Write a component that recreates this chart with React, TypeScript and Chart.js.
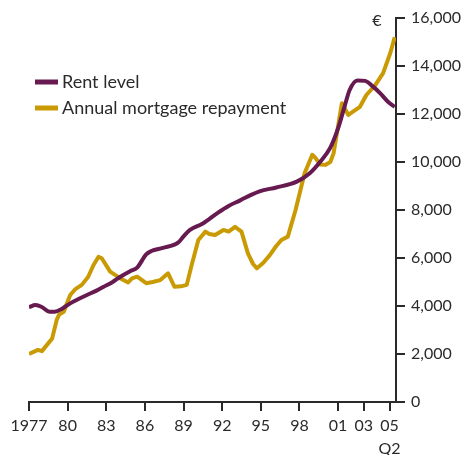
import React, { useEffect, useRef } from "react";
import { Chart, registerables } from "chart.js";

Chart.register(...registerables);

const rentYears = [1977.0, 1977.5, 1978.0, 1978.6, 1979.0, 1979.6, 1980.2, 1980.8, 1981.5, 1982.2, 1982.8, 1983.5, 1984.1, 1984.85, 1985.4, 1986.1, 1986.5, 1987.4, 1988.6, 1989.0, 1989.5, 1990.5, 1991.6, 1992.5, 1993.4, 1994.2, 1994.9, 1996.2, 1997.8, 1998.8, 1999.6, 2000.4, 2001.0, 2001.5, 2001.9, 2002.5, 2003.1, 2003.7, 2004.3, 2004.9, 2005.4];
const rentValues = [3950, 4040, 3960, 3760, 3760, 3900, 4110, 4280, 4460, 4630, 4800, 5000, 5220, 5450, 5600, 6150, 6290, 6420, 6650, 6900, 7170, 7440, 7860, 8170, 8400, 8620, 8780, 8940, 9180, 9530, 10000, 10600, 11400, 12300, 13000, 13400, 13380, 13150, 12850, 12500, 12300];

const mortgageYears = [1977.0, 1977.4, 1977.7, 1978.0, 1978.8, 1979.15, 1979.35, 1979.7, 1980.2, 1980.6, 1981.1, 1981.6, 1982.0, 1982.4, 1982.65, 1983.3, 1984.1, 1984.7, 1985.0, 1985.4, 1986.1, 1986.6, 1987.2, 1987.8, 1988.3, 1988.8, 1989.25, 1989.6, 1990.15, 1990.7, 1991.0, 1991.45, 1992.1, 1992.5, 1993.0, 1993.5, 1994.0, 1994.4, 1994.7, 1995.2, 1995.7, 1996.2, 1996.6, 1997.1, 1997.7, 1998.4, 1999.0, 1999.2, 1999.6, 2000.0, 2000.4, 2000.65, 2001.3, 2001.8, 2002.3, 2002.7, 2003.2, 2003.9, 2004.5, 2005.05, 2005.4];
const mortgageValues = [2000, 2100, 2170, 2120, 2650, 3420, 3650, 3760, 4460, 4700, 4880, 5220, 5700, 6050, 5990, 5430, 5150, 4980, 5150, 5220, 4950, 5000, 5080, 5360, 4800, 4820, 4880, 5640, 6750, 7100, 7000, 6960, 7170, 7100, 7300, 7100, 6190, 5750, 5570, 5800, 6120, 6500, 6750, 6890, 8000, 9530, 10300, 10200, 9900, 9880, 10000, 10360, 12450, 11960, 12150, 12300, 12790, 13210, 13700, 14530, 15200];

const xTickValues = [1977, 1980, 1983, 1986, 1989, 1992, 1995, 1998, 2001, 2003, 2005];
const xTickLabels: (string | string[])[] = ["1977", "80", "83", "86", "89", "92", "95", "98", "01", "03", ["05", "Q2"]];
const seriesLabels = ["Rent level", "Annual mortgage repayment"];
const seriesColors = ["#661a4f", "#c99a04"];
const unitLabel = "€";

const FONT = "Lato, 'Open Sans', sans-serif";
const TEXT = "#2a2a2a";

const overlay = {
  id: "overlay",
  afterDraw(chart: any) {
    const ctx = chart.ctx;
    ctx.save();
    ctx.font = `16px ${FONT}`;
    ctx.fillStyle = TEXT;
    ctx.textBaseline = "middle";
    ctx.textAlign = "center";
    const yScale = chart.scales.y;
    ctx.fillText(unitLabel, yScale.left - 19, yScale.top + 3);
    ctx.textAlign = "left";
    ctx.font = `18px ${FONT}`;
    chart.data.datasets.forEach((ds: any, i: number) => {
      const y = 82 + i * 26;
      ctx.strokeStyle = ds.borderColor;
      ctx.lineWidth = 5;
      ctx.beginPath();
      ctx.moveTo(35, y);
      ctx.lineTo(58, y);
      ctx.stroke();
      ctx.fillText(ds.label, 62, y);
    });
    ctx.restore();
  },
};

export default function App() {
  const ref = useRef<HTMLCanvasElement>(null);
  useEffect(() => {
    if (!ref.current) return;
    const mk = (xs: number[], ys: number[]) => xs.map((x, i) => ({ x, y: ys[i] }));
    const chart = new Chart(ref.current, {
      type: "line",
      data: {
        datasets: [
          {
            label: seriesLabels[0],
            data: mk(rentYears, rentValues),
            borderColor: seriesColors[0],
            borderWidth: 4,
            pointRadius: 0,
            tension: 0.4,
            cubicInterpolationMode: "monotone",
          },
          {
            label: seriesLabels[1],
            data: mk(mortgageYears, mortgageValues),
            borderColor: seriesColors[1],
            borderWidth: 4,
            pointRadius: 0,
            tension: 0,
            borderJoinStyle: "round",
          },
        ],
      },
      options: {
        animation: false,
        responsive: false,
        maintainAspectRatio: false,
        layout: { padding: { left: 29, top: 18, right: 0, bottom: 0 } },
        plugins: { legend: { display: false }, tooltip: { enabled: false } },
        scales: {
          x: {
            type: "linear",
            min: 1977,
            max: 2005.5,
            afterBuildTicks: (scale: any) => {
              scale.ticks = xTickValues.map((v) => ({ value: v }));
            },
            afterFit: (scale: any) => {
              scale.height = 53;
            },
            grid: { drawOnChartArea: false, tickLength: 9, color: TEXT, lineWidth: 2 },
            border: { display: true, color: TEXT, width: 2 },
            ticks: {
              autoSkip: false,
              maxRotation: 0,
              padding: 3,
              color: TEXT,
              font: { family: FONT, size: 16, lineHeight: 1.45 },
              callback: (v: any) => {
                const i = xTickValues.indexOf(Number(v));
                return i >= 0 ? xTickLabels[i] : "";
              },
            },
          },
          y: {
            position: "right",
            min: 0,
            max: 16000,
            afterFit: (scale: any) => {
              scale.width = 73;
            },
            grid: { drawOnChartArea: false, tickLength: 9, color: TEXT, lineWidth: 2 },
            border: { display: true, color: TEXT, width: 2 },
            ticks: {
              stepSize: 2000,
              padding: 6,
              color: TEXT,
              font: { family: FONT, size: 16 },
              callback: (v: any) => Number(v).toLocaleString("en-US"),
            },
          },
        },
      },
      plugins: [overlay],
    });
    return () => chart.destroy();
  }, []);
  return (
    <div style={{ position: "absolute", left: 0, top: 0, width: 469, height: 455, background: "#fff" }}>
      <canvas ref={ref} width={469} height={455} style={{ width: 469, height: 455 }} />
    </div>
  );
}
